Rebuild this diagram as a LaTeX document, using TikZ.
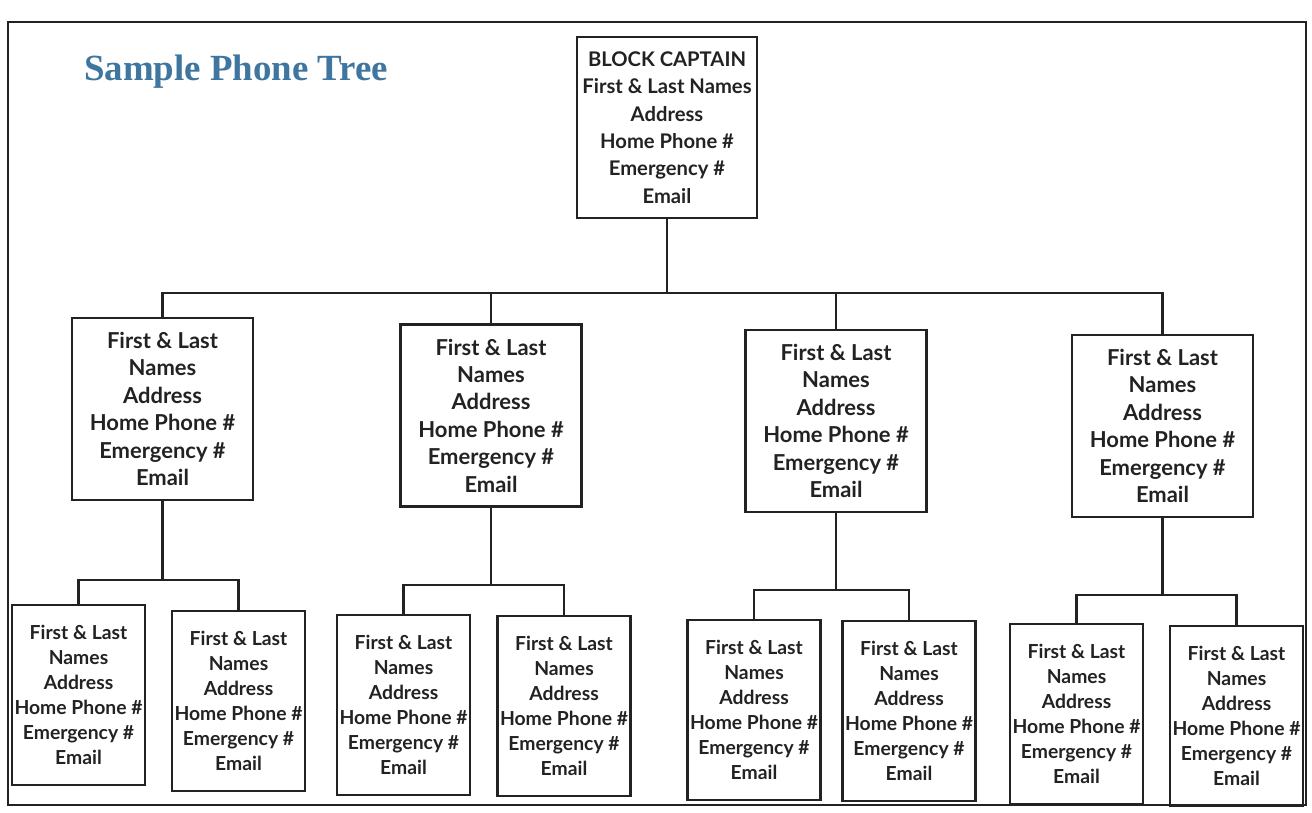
\documentclass[tikz,border=0pt]{standalone}
\usepackage{fontspec}
\setmainfont{Lato}
\newfontfamily\titlefont{Liberation Serif}
\usepackage{xcolor}
\definecolor{titleblue}{HTML}{3F76A0}
\definecolor{inkgray}{HTML}{222222}
\newcommand{\personlines}{First \& Last\\Names\\Address\\Home Phone \#\\Emergency \#\\Email}
\tikzset{
  contact/.style={draw=inkgray, line width=1.3pt, align=center, inner sep=0pt,
    text=inkgray, font=\bfseries\fontsize{12.5}{15.6}\selectfont,
    minimum width=3.62cm, minimum height=3.64cm},
  captain/.style={contact, font=\bfseries\fontsize{11.5}{15.6}\selectfont,
    minimum width=3.6cm, minimum height=3.62cm},
  caller/.style={contact, font=\bfseries\fontsize{11}{14.2}\selectfont,
    minimum width=2.66cm, minimum height=3.6cm},
  link/.style={draw=inkgray, line width=1.3pt}
}
\begin{document}
\begin{tikzpicture}[x=0.02cm, y=-0.02cm]
        \useasboundingbox (0,0) rectangle (1312,812);
        % Outer frame
        \draw [inkgray, line width=1.5pt] (8,22) rectangle (1306,805);
        \node [anchor=base west, text=titleblue, font=\titlefont\bfseries\fontsize{21}{25}\selectfont] (title) at (78,80) {Sample Phone Tree};
        % Block captain
        \node [captain] (cap) at (667,127.5) {BLOCK CAPTAIN\\First \& Last Names\\Address\\Home Phone \#\\Emergency \#\\Email};
        % First row of callers
        \node [contact] (nA) at (162.5,409) {\personlines};
        \node [contact] (nB) at (491,415.5) {\personlines};
        \node [contact] (nC) at (836,421) {\personlines};
        \node [contact] (nD) at (1162.5,426) {\personlines};
        % Second row of callers
        \node [caller] (nA1) at (78.5,695) {\personlines};
        \node [caller] (nA2) at (238.5,701) {\personlines};
        \node [caller] (nB1) at (403.5,705) {\personlines};
        \node [caller] (nB2) at (564,706) {\personlines};
        \node [caller] (nC1) at (754,710) {\personlines};
        \node [caller] (nC2) at (909,711) {\personlines};
        \node [caller] (nD1) at (1076.5,714) {\personlines};
        \node [caller] (nD2) at (1236.5,716) {\personlines};
        % Captain to first row
        \coordinate (bus) at (667,293);
        \draw [link] (cap.south) -- (bus);
        \draw [link] (nA.north) -- (nA.north |- bus) -- (nD.north |- bus) -- (nD.north);
        \draw [link] (nB.north) -- (nB.north |- bus);
        \draw [link] (nC.north) -- (nC.north |- bus);
        % First row to second row
        \coordinate (busA) at (162.5,580);
        \coordinate (busB) at (491,585);
        \coordinate (busC) at (836,590);
        \coordinate (busD) at (1162.5,595);
        \draw [link] (nA.south) -- (busA);
        \draw [link] (nA1.north) |- (busA) -| (nA2.north);
        \draw [link] (nB.south) -- (busB);
        \draw [link] (nB1.north) |- (busB) -| (nB2.north);
        \draw [link] (nC.south) -- (busC);
        \draw [link] (nC1.north) |- (busC) -| (nC2.north);
        \draw [link] (nD.south) -- (busD);
        \draw [link] (nD1.north) |- (busD) -| (nD2.north);
    \end{tikzpicture}
\end{document}
